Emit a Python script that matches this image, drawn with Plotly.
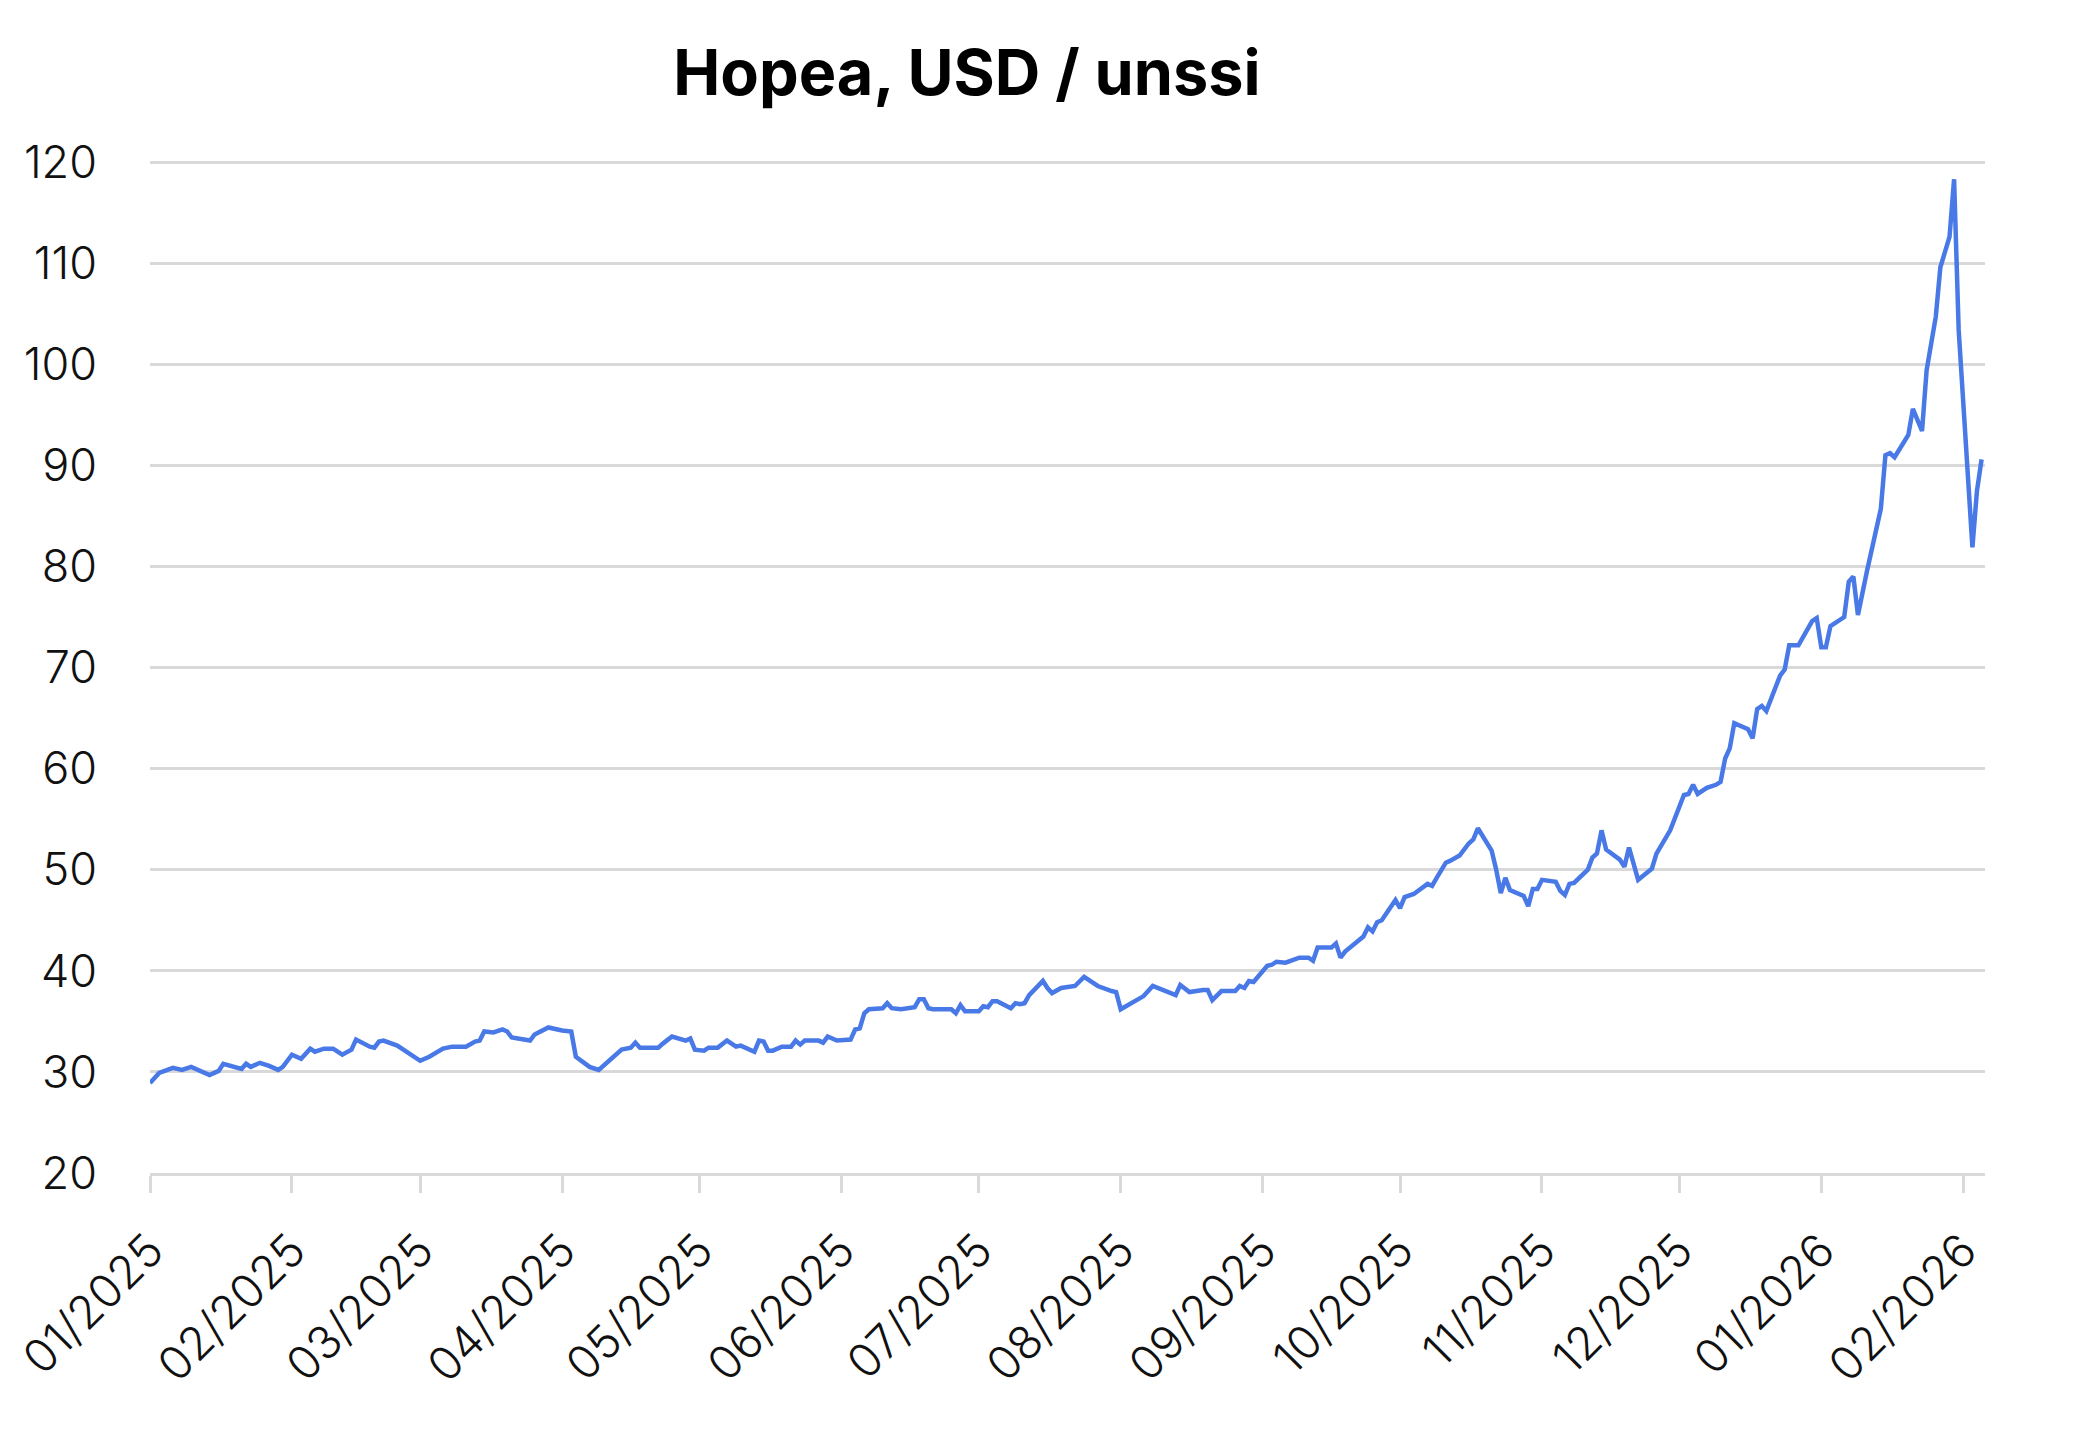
import pandas as pd
import plotly.graph_objects as go

# Day offsets from 2025-01-01 and silver price in USD/oz
day_offsets = [
    0, 2, 5, 7, 9, 13, 15, 16, 20, 21, 22, 24, 26, 28, 29, 31, 33, 35, 36, 38,
    40, 42, 44, 45, 48, 49, 50, 51, 54, 55, 57, 59, 61, 64, 66, 69, 71, 72, 73, 75,
    77, 78, 79, 83, 84, 87, 90, 92, 93, 96, 98, 100, 103, 105, 106, 107, 111, 112, 114, 117,
    118, 119, 121, 122, 124, 126, 128, 129, 132, 133, 134, 135, 136, 138, 140, 141, 142, 143, 146, 147,
    148, 150, 153, 154, 155, 156, 157, 160, 161, 162, 164, 167, 168, 169, 170, 171, 175, 176, 177, 178,
    181, 182, 183, 184, 185, 188, 189, 190, 191, 192, 195, 196, 197, 199, 202, 204, 206, 207, 210, 211,
    212, 217, 219, 224, 225, 227, 230, 231, 232, 234, 237, 238, 239, 240, 241, 244, 245, 246, 248, 251,
    253, 254, 255, 258, 259, 260, 261, 265, 266, 267, 268, 269, 272, 273, 274, 276, 279, 280, 281, 283,
    284, 286, 288, 289, 290, 293, 294, 295, 296, 297, 300, 301, 302, 303, 304, 307, 308, 309, 310, 311,
    314, 315, 316, 317, 318, 321, 322, 323, 325, 328, 329, 331, 332, 335, 336, 337, 338, 340, 342, 343,
    344, 345, 346, 349, 350, 351, 352, 353, 356, 357, 358, 360, 363, 364, 365, 366, 367, 370, 371, 372,
    373, 375, 377, 378, 379, 380, 381, 384, 385, 387, 388, 390, 391, 392, 393, 394, 395, 398, 399, 400,
]
prices = [
    28.9, 29.9, 30.4, 30.2, 30.5, 29.7, 30.1, 30.8, 30.3, 30.8, 30.5, 30.9, 30.6, 30.2, 30.5, 31.7, 31.3, 32.3, 32.0, 32.3,
    32.3, 31.7, 32.2, 33.2, 32.5, 32.4, 33.0, 33.1, 32.6, 32.3, 31.8, 31.1, 31.5, 32.3, 32.5, 32.5, 33.0, 33.1, 34.0, 33.9,
    34.2, 34.0, 33.4, 33.1, 33.7, 34.4, 34.1, 34.0, 31.5, 30.5, 30.2, 31.0, 32.2, 32.4, 32.9, 32.4, 32.4, 32.8, 33.5, 33.1,
    33.3, 32.2, 32.1, 32.4, 32.4, 33.1, 32.5, 32.6, 32.0, 33.1, 33.0, 32.1, 32.1, 32.5, 32.5, 33.1, 32.7, 33.1, 33.1, 32.9,
    33.5, 33.1, 33.2, 34.2, 34.3, 35.8, 36.2, 36.3, 36.8, 36.3, 36.2, 36.4, 37.2, 37.2, 36.3, 36.2, 36.2, 35.8, 36.6, 36.0,
    36.0, 36.5, 36.4, 37.0, 37.0, 36.3, 36.8, 36.7, 36.8, 37.6, 39.0, 38.3, 37.8, 38.3, 38.5, 39.4, 38.8, 38.5, 38.0, 37.9,
    36.2, 37.5, 38.5, 37.6, 38.6, 37.9, 38.1, 38.1, 37.1, 38.0, 38.0, 38.5, 38.3, 39.0, 38.9, 40.5, 40.6, 40.9, 40.8, 41.3,
    41.3, 41.0, 42.3, 42.3, 42.7, 41.3, 41.9, 43.4, 44.3, 43.9, 44.8, 45.0, 47.0, 46.2, 47.3, 47.6, 48.6, 48.4, 49.2, 50.7,
    50.9, 51.4, 52.6, 53.0, 54.1, 51.9, 50.0, 47.7, 49.2, 48.0, 47.4, 46.4, 48.1, 48.1, 49.0, 48.8, 47.9, 47.5, 48.6, 48.7,
    50.0, 51.2, 51.6, 53.9, 52.0, 51.0, 50.3, 52.2, 49.0, 50.1, 51.6, 53.2, 53.9, 57.4, 57.5, 58.4, 57.5, 58.1, 58.4, 58.7,
    61.0, 62.0, 64.5, 63.9, 63.0, 65.9, 66.2, 65.7, 69.2, 69.8, 72.2, 72.2, 74.6, 74.9, 72.0, 72.0, 74.1, 75.0, 78.5, 79.0,
    75.2, 79.6, 83.8, 85.7, 91.0, 91.2, 90.8, 93.0, 95.6, 93.4, 99.4, 104.7, 109.6, 111.3, 112.6, 118.3, 103.4, 81.9, 87.5, 90.6,
]

title_text = "Hopea, USD / unssi"
y_ticks = [20, 30, 40, 50, 60, 70, 80, 90, 100, 110, 120]

dates = pd.Timestamp("2025-01-01") + pd.to_timedelta(day_offsets, unit="D")

LINE = "#4979e6"
GRID = "#d9d9d9"
FONT = "Inter"

fig = go.Figure()
fig.add_trace(go.Scatter(
    x=dates, y=prices, mode="lines",
    line=dict(color=LINE, width=4.5),
    hoverinfo="x+y", showlegend=False,
))

fig.update_layout(
    width=2079, height=1449,
    paper_bgcolor="white", plot_bgcolor="white",
    margin=dict(l=142, r=102, t=144, b=284, pad=0, autoexpand=False),
    font=dict(family=FONT, color="#111111", size=46),
    title=dict(
        text=title_text,
        font=dict(family=FONT, size=63, color="#000000", weight=700),
        x=959 / 2079, xref="container", xanchor="center",
        y=1 - 65 / 1449, yref="container", yanchor="middle",
    ),
    xaxis=dict(
        type="date",
        range=["2025-01-01", "2026-02-05 18:00"],
        dtick="M1", tick0="2025-01-01",
        tickformat="%m/%Y", tickangle=-45,
        ticks="outside", ticklen=17, tickwidth=3, tickcolor=GRID,
        showline=True, linecolor=GRID, linewidth=3,
        showgrid=False, zeroline=False,
        ticklabelstandoff=12, automargin=False,
        tickfont=dict(family=FONT, size=46, color="#111111", weight=300),
    ),
    yaxis=dict(
        range=[20, 121],
        tickvals=y_ticks,
        showgrid=True, gridcolor=GRID, gridwidth=2.5,
        zeroline=False, showline=False, ticks="",
        ticklabelstandoff=52, automargin=False,
        tickfont=dict(family=FONT, size=45, color="#111111", weight=300),
    ),
)

fig.write_html("out.html")
